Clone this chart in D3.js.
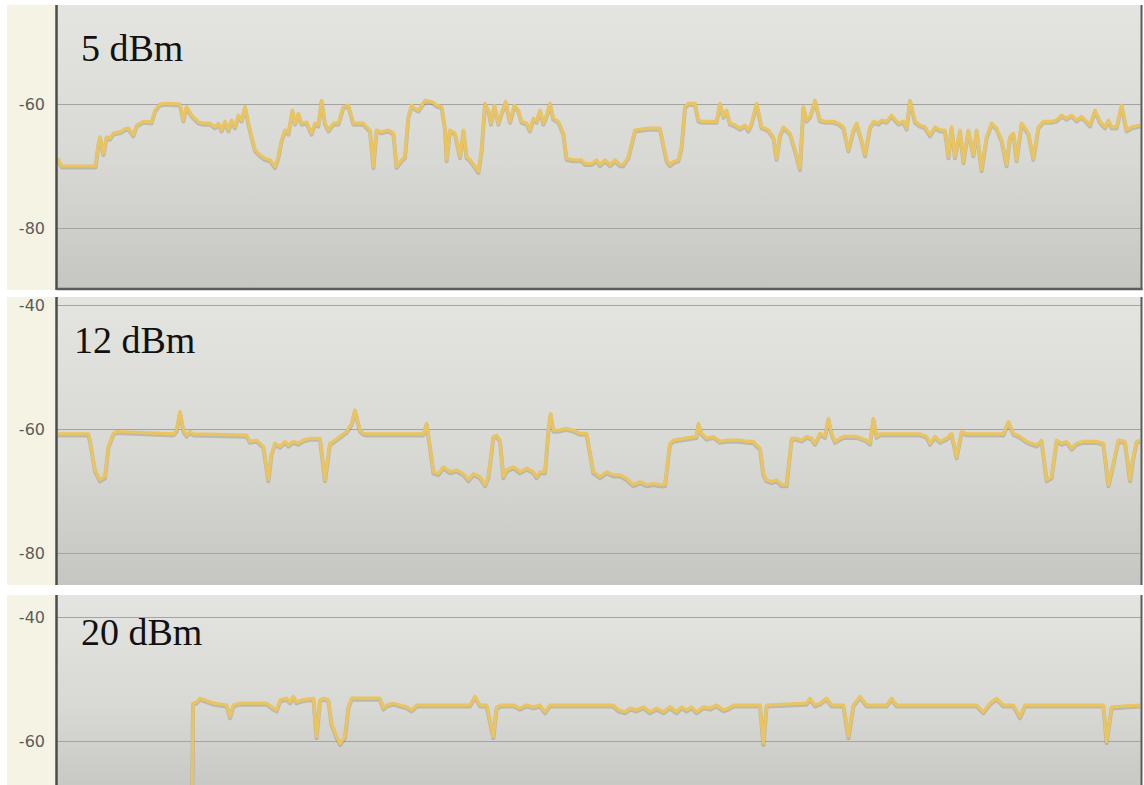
<!DOCTYPE html>
<html>
<head>
<meta charset="utf-8">
<script src="https://cdn.jsdelivr.net/npm/d3@7"></script>
<style>
  html, body { margin: 0; padding: 0; background: #ffffff; }
  svg { display: block; }
</style>
</head>
<body>
<svg id="chart" width="1144" height="785"></svg>
<script>
// Received signal strength (dBm) over time, one panel per transmit power setting.
const panelLabels = ["5 dBm", "12 dBm", "20 dBm"];
const yTicks = [-40, -60, -80];
const timeExtent = [0, 541]; // seconds

// [time (s), RSSI (dBm)]
const rssi5 = [
  [0,-68.8],[1.8,-70],[18.8,-70],[20.2,-66.5],[21,-65.3],[22.7,-68],[24.3,-65.3],[26,-65.5],[27.7,-64.7],
  [31,-64.5],[33.5,-64],[35.2,-63.9],[37.7,-65],[39.3,-63.4],[42.7,-62.8],[46.8,-62.9],[48.5,-61],[51,-60],
  [55,-59.9],[61,-60],[62.7,-62.6],[64.3,-60.4],[66.8,-61.8],[70.2,-62.9],[72.7,-63.1],[76,-63.1],[78.5,-63.7],
  [80.2,-63.1],[81.8,-64.2],[83.5,-62.8],[85.2,-64.2],[86.8,-62.6],[88.5,-63.7],[90.2,-61.8],[91.8,-62.6],
  [93.5,-60.4],[95.2,-63.1],[98.5,-67.4],[101,-68.2],[103.5,-68.8],[106,-69],[108.5,-70.1],[110.2,-68.5],
  [111.8,-65.8],[113.5,-64.2],[115.2,-64.7],[117.2,-61],[118.5,-63.1],[120.2,-61.5],[121.8,-63.1],[124.3,-62.9],
  [126.8,-64.7],[128.5,-63.1],[130.2,-63.4],[131.8,-59.4],[133.5,-63.1],[135.2,-64.2],[137.7,-63.1],[140.2,-63.1],
  [142.7,-60.4],[145.2,-60.2],[147.7,-63.1],[152.7,-63.1],[154.3,-63.7],[156,-64.2],[157.7,-70.1],[159.3,-64.2],
  [161.8,-64.5],[165.2,-64.2],[167.7,-64.7],[169.3,-70.1],[171.8,-69],[173.5,-68.5],[175.2,-62],[176.8,-60.2],
  [178.5,-60.7],[180.2,-61],[183.5,-59.4],[186.8,-59.6],[189.3,-60.2],[191.8,-60.4],[193.5,-63.9],[194.3,-69],
  [196,-64.2],[198.5,-64.7],[201,-68.5],[202.7,-64.2],[204.3,-68.5],[206,-69],[208.5,-70.1],[210.2,-70.9],
  [211.8,-67.4],[213.5,-59.9],[215.2,-61],[216.5,-63.1],[218.2,-60.2],[220.2,-63.1],[222.2,-61],[223.8,-59.6],
  [226,-62.8],[228.2,-60.2],[230.2,-61],[231.8,-62.8],[234.3,-63.1],[236,-64.2],[237.7,-62.3],[239.3,-62.8],
  [241,-61],[242.7,-63.1],[244.3,-61.8],[246,-59.9],[247.7,-62.3],[250.2,-62.8],[252.7,-64.7],[254.3,-68.8],
  [257.7,-69],[261.8,-69],[263.5,-69.6],[266.8,-69.6],[269.3,-69],[271,-69.8],[273.5,-69],[276,-69.8],
  [278.5,-69],[281,-69.8],[282.7,-69.8],[285.2,-68.5],[288.5,-64.2],[295.2,-63.9],[301,-63.9],[302.7,-66.6],
  [304.3,-69],[306,-69.8],[307.7,-69.3],[310.2,-69],[311.8,-66.9],[313.5,-60.4],[315.2,-59.9],[318.5,-59.9],
  [320.2,-62.6],[321.8,-62.8],[329.3,-62.8],[331,-59.9],[332.7,-62],[334.3,-61],[336,-63.1],[338.5,-63.4],
  [341,-63.9],[343.5,-63.4],[345.2,-64.2],[346.8,-63.1],[349.3,-59.9],[351.8,-63.7],[353.5,-63.9],[355.2,-64.2],
  [357.7,-65.3],[359.3,-68.8],[361,-65],[362.7,-63.7],[366,-64.7],[368.5,-67.4],[371,-70.4],[372.7,-60.4],
  [374.3,-62.6],[376,-62],[378.5,-59.4],[381,-62.6],[383.5,-62.8],[387.7,-62.8],[390.2,-63.1],[392.7,-63.7],
  [395.2,-67.4],[397.7,-64.2],[399.3,-63.1],[401.8,-65.8],[403.5,-68.2],[406,-63.7],[407.7,-62.8],[410.2,-63.1],
  [411.8,-62.6],[414.3,-62.8],[416.8,-61.8],[420.2,-63.1],[422.7,-62.8],[424.3,-63.9],[426,-59.4],[428.5,-62.8],
  [431,-63.4],[433.5,-63.7],[436,-65],[438.5,-63.7],[441,-64.2],[443.5,-64.2],[445.2,-68.5],[446.8,-63.7],
  [448.5,-68.5],[451,-64.2],[452.7,-69.3],[455.2,-64.2],[457.7,-68.2],[459.3,-64.2],[461.8,-70.6],[464.3,-65.3],
  [466.8,-63.1],[469.3,-63.9],[471.8,-65.8],[474.3,-69.8],[476,-65.3],[477.7,-64.7],[479.3,-69],[481.8,-63.1],
  [485.2,-64.7],[487.7,-68.8],[490.2,-63.7],[492.7,-62.8],[496.8,-62.8],[499.3,-62.6],[501.8,-61.8],[504.3,-62.3],
  [506.8,-61.8],[509.3,-62.6],[511.8,-62],[514.3,-62.8],[516,-63.4],[518.5,-61],[521,-62.8],[523.5,-63.7],
  [525.2,-62.6],[526.8,-63.7],[529.3,-63.7],[531.8,-60.2],[534.3,-64.2],[536.8,-63.7],[541,-63.4]
];

const rssi12 = [
  [0,-60.8],[15.2,-60.8],[16,-61.8],[18.5,-66.6],[21,-68.2],[23.5,-67.7],[25.2,-62.8],[27.7,-60.7],[29.3,-60.4],
  [57.7,-60.8],[59.3,-60.2],[61,-57.2],[62.7,-60.2],[64.3,-61],[66,-60.4],[67.7,-60.8],[94.3,-61],[96,-62],
  [99.3,-61.8],[102.7,-62.8],[105.2,-68.2],[106.8,-63.9],[108.5,-62.3],[111,-62.8],[113.5,-62],[115.2,-62.6],
  [117.7,-62],[120.2,-62.3],[122.7,-61.8],[126,-61.5],[131,-61.5],[133.5,-68.2],[136,-62.3],[137.7,-62],
  [141,-61.2],[144.3,-60.4],[146.8,-59.1],[148.5,-56.9],[151,-60.2],[152.7,-60.7],[154.3,-60.8],[182.7,-60.8],
  [184.3,-59.1],[186,-62.8],[187.7,-66.9],[190.2,-67.2],[192.7,-66.1],[196,-66.9],[199.3,-66.6],[202.7,-67.2],
  [205.2,-68.2],[207.7,-67.2],[211,-67.7],[213.5,-69],[215.2,-67.7],[217.7,-61.2],[219.3,-61],[221,-61.8],
  [222.7,-67.7],[224.3,-66.6],[227.7,-66.1],[231,-66.9],[234.3,-66.3],[237.7,-66.9],[239.3,-67.7],[241,-66.9],
  [243.5,-66.9],[245.2,-60.2],[246.3,-57.5],[247.7,-60.2],[250.2,-60.2],[254.3,-59.9],[257.7,-60.2],[261,-60.7],
  [264.3,-60.7],[267.7,-66.9],[271,-67.7],[274.3,-66.9],[277.7,-67.4],[281,-67.4],[284.3,-68],[287.7,-69],
  [291,-68.5],[294.3,-69],[297.7,-68.8],[301,-69],[303.5,-69],[306,-62.3],[307.7,-61.8],[319.3,-61.2],
  [320.2,-59.1],[321.8,-60.7],[324.3,-61.5],[327.7,-61.2],[331,-62],[334.3,-61.8],[341,-61.8],[344.3,-62],
  [347.7,-62],[349.3,-62.6],[351,-63.1],[352.7,-67.2],[354.3,-68.2],[356.8,-68.5],[359.3,-68.2],[361.8,-69],
  [364.3,-69],[366.8,-61.5],[369.3,-61.5],[371.8,-61.8],[374.3,-61.2],[376.8,-61.5],[378.5,-62.3],[381,-60.7],
  [383.5,-61.2],[385.2,-58.3],[386.8,-60.7],[388.5,-62],[392.7,-61.2],[399.3,-61.2],[404.3,-61.8],[406,-62.3],
  [407.7,-58.3],[409.3,-61.2],[411,-60.8],[431,-60.8],[434.3,-61.2],[436,-62.3],[438.5,-61.2],[441,-62],
  [444.3,-61.5],[446.8,-60.7],[449.3,-64.5],[451.8,-60.4],[454.3,-60.8],[472.7,-60.8],[475.2,-58.8],[477.7,-60.7],
  [481,-61.2],[484.3,-62],[486.8,-62.3],[489.3,-62.6],[491.8,-61.8],[494.3,-68.2],[496.8,-67.7],[499.3,-61.8],
  [501.8,-62.3],[504.3,-62],[506.8,-63.1],[509.3,-62.3],[512.7,-62],[519.3,-62],[522.7,-62.3],[525.2,-69],
  [527.7,-65.5],[530.2,-61.8],[533.5,-62],[536,-68.2],[537.7,-64.5],[539.3,-62],[541,-61.8]
];

const rssi20 = [
  [66.5,-95],[67.5,-53.9],[69.3,-53.7],[71,-53.1],[73.5,-53.4],[77.7,-53.9],[84.3,-54.2],[86,-56.1],[87.7,-54.2],
  [91,-53.9],[104.3,-53.9],[107.7,-54.7],[109.3,-55],[111,-53.4],[114.3,-53.1],[116,-53.7],[117.7,-52.8],
  [119.3,-53.7],[121.8,-53.4],[127.7,-53.1],[129.3,-59.3],[131,-53.4],[132.7,-53.1],[135.2,-53.4],[136.8,-57.2],
  [139.3,-59.3],[141,-60.4],[143.5,-59.3],[145.2,-54.5],[146.8,-53.1],[161,-53.1],[162.7,-54.7],[164.3,-54.2],
  [167.7,-53.9],[171,-54.2],[174.3,-54.5],[176.8,-55],[179.3,-54.2],[206,-54.2],[208.5,-52.8],[211,-54.2],
  [214.3,-54.2],[217.7,-59.3],[219.3,-54.5],[221.8,-54.2],[227.7,-54.2],[231,-54.7],[234.3,-54.2],[237.7,-54.5],
  [241,-54.2],[243.5,-55.3],[246,-54.2],[277.7,-54.2],[280.2,-55],[283.5,-55.3],[286,-54.7],[289.3,-55],
  [292.7,-54.5],[296,-55.3],[299.3,-54.7],[302.7,-55.3],[306,-54.5],[309.3,-55.3],[311.8,-54.5],[314.3,-55],
  [316.8,-54.5],[319.3,-55.3],[322.7,-54.5],[326,-54.7],[329.3,-54.2],[332.7,-55],[335.2,-54.7],[337.7,-54.2],
  [351,-54.2],[352.7,-60.4],[354.3,-54.2],[374.3,-53.9],[376,-53.1],[378.5,-54.2],[381,-53.9],[384.3,-53.1],
  [386.8,-54.2],[392.7,-54.2],[395.2,-59.3],[397.7,-54.2],[401,-52.8],[404.3,-54.2],[414.3,-54.2],[416.8,-53.1],
  [419.3,-54.2],[459.3,-54.2],[462.7,-55.3],[466,-53.9],[469.3,-53.1],[472.7,-54.2],[477.7,-54.2],[481,-56.1],
  [483.5,-54.2],[522.7,-54.2],[524.3,-60.1],[526.8,-54.5],[541,-54.2]
];

const seriesList = [rssi5, rssi12, rssi20];

// Panel geometry (pixels): plot box and where -40 / -80 dBm fall.
const plotLeft = 57, plotRight = 1141;
const panels = [
  { top: 5,   bottom: 290, y40: -20, y80: 228, labelX: 81, labelY: 61,  bottomEdge: true },
  { top: 297, bottom: 585, y40: 305, y80: 553, labelX: 74, labelY: 353, bottomEdge: false },
  { top: 595, bottom: 800, y40: 617, y80: 865, labelX: 81, labelY: 645, bottomEdge: false }
];

const svg = d3.select("#chart");
const defs = svg.append("defs");

const bg = defs.append("linearGradient")
  .attr("id", "plotBg").attr("x1", 0).attr("y1", 0).attr("x2", 0).attr("y2", 1);
bg.append("stop").attr("offset", "0%").attr("stop-color", "#e4e5e1");
bg.append("stop").attr("offset", "55%").attr("stop-color", "#d8d9d5");
bg.append("stop").attr("offset", "100%").attr("stop-color", "#c5c6c2");

const x = d3.scaleLinear().domain(timeExtent).range([58, 1140]);

panels.forEach((p, i) => {
  const g = svg.append("g");
  const y = d3.scaleLinear().domain([-80, -40]).range([p.y80, p.y40]);

  // side strip holding the tick labels
  g.append("rect")
    .attr("x", 7).attr("y", p.top)
    .attr("width", plotLeft - 7).attr("height", p.bottom - p.top)
    .attr("fill", "#f5f3e3");

  // plot background
  g.append("rect")
    .attr("x", plotLeft).attr("y", p.top)
    .attr("width", plotRight - plotLeft).attr("height", p.bottom - p.top)
    .attr("fill", "url(#plotBg)");

  const clipId = "clip" + i;
  defs.append("clipPath").attr("id", clipId)
    .append("rect")
    .attr("x", plotLeft).attr("y", p.top)
    .attr("width", plotRight - plotLeft).attr("height", p.bottom - p.top);

  // grid lines and tick labels (plain hyphen minus)
  const visible = yTicks.filter(v => y(v) > p.top + 2 && y(v) < p.bottom - 2);
  const axis = d3.axisLeft(y)
    .tickValues(visible)
    .tickSize(-(plotRight - plotLeft))
    .tickPadding(12)
    .tickFormat(d => String(d));
  const ag = g.append("g")
    .attr("transform", `translate(${plotLeft},0)`)
    .call(axis);
  ag.select(".domain").remove();
  ag.selectAll(".tick line")
    .attr("stroke", "#a4a5a1")
    .attr("stroke-width", 1);
  ag.selectAll(".tick text")
    .attr("fill", "#5c5c5c")
    .style("font-family", "'DejaVu Sans', Verdana, sans-serif")
    .style("font-size", "16px");

  // series line with a soft drop shadow
  const line = d3.line()
    .x(d => x(d[0]))
    .y(d => y(d[1]));
  const lg = g.append("g").attr("clip-path", `url(#${clipId})`);
  lg.append("path")
    .datum(seriesList[i])
    .attr("d", line)
    .attr("transform", "translate(0,1.5)")
    .attr("fill", "none")
    .attr("stroke", "rgba(110,100,70,0.28)")
    .attr("stroke-width", 4)
    .attr("stroke-linejoin", "round");
  lg.append("path")
    .datum(seriesList[i])
    .attr("d", line)
    .attr("fill", "none")
    .attr("stroke", "#e9c45f")
    .attr("stroke-width", 3.2)
    .attr("stroke-linejoin", "round");

  // frame edges
  g.append("line")
    .attr("x1", plotLeft - 0.5).attr("x2", plotLeft - 0.5)
    .attr("y1", p.top).attr("y2", p.bottom)
    .attr("stroke", "#4c4c4c").attr("stroke-width", 2.5);
  g.append("line")
    .attr("x1", plotRight + 0.5).attr("x2", plotRight + 0.5)
    .attr("y1", p.top).attr("y2", p.bottom)
    .attr("stroke", "#5a5a5a").attr("stroke-width", 2);
  if (p.bottomEdge) {
    g.append("line")
      .attr("x1", plotLeft).attr("x2", plotRight + 1.5)
      .attr("y1", p.bottom - 1).attr("y2", p.bottom - 1)
      .attr("stroke", "#5c5c5c").attr("stroke-width", 2.5);
  }

  // power-setting caption
  g.append("text")
    .attr("x", p.labelX).attr("y", p.labelY)
    .attr("fill", "#111")
    .style("font-family", "'Liberation Serif', 'Times New Roman', serif")
    .style("font-size", "38px")
    .text(panelLabels[i]);
});
</script>
</body>
</html>
